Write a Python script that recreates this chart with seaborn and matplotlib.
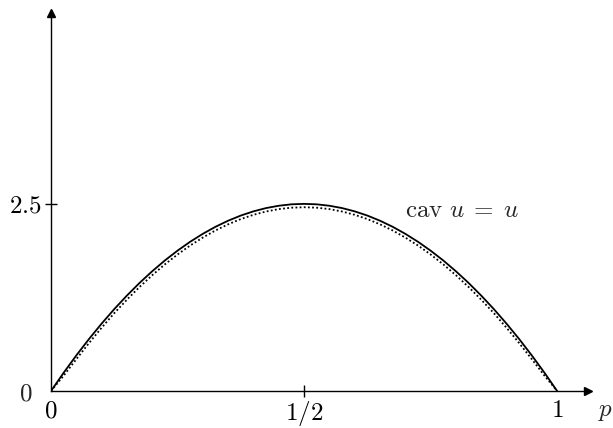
import matplotlib
matplotlib.use("Agg")
import matplotlib.pyplot as plt
import seaborn as sns
import pandas as pd

# valores (p em passos de 0.025)
p_vals = [0.0, 0.025, 0.05, 0.075, 0.1, 0.125, 0.15, 0.175, 0.2, 0.225,
          0.25, 0.275, 0.3, 0.325, 0.35, 0.375, 0.4, 0.425, 0.45, 0.475,
          0.5, 0.525, 0.55, 0.575, 0.6, 0.625, 0.65, 0.675, 0.7, 0.725,
          0.75, 0.775, 0.8, 0.825, 0.85, 0.875, 0.9, 0.925, 0.95, 0.975, 1.0]
cav_u = [0.0, 0.244, 0.475, 0.694, 0.9, 1.094, 1.275, 1.444, 1.6, 1.744,
         1.875, 1.994, 2.1, 2.194, 2.275, 2.344, 2.4, 2.444, 2.475, 2.494,
         2.5, 2.494, 2.475, 2.444, 2.4, 2.344, 2.275, 2.194, 2.1, 1.994,
         1.875, 1.744, 1.6, 1.444, 1.275, 1.094, 0.9, 0.694, 0.475, 0.244, 0.0]
u_vals = [0.0, 0.205, 0.425, 0.64, 0.845, 1.04, 1.22, 1.39, 1.547, 1.692,
          1.824, 1.944, 2.05, 2.145, 2.227, 2.297, 2.354, 2.398, 2.43, 2.449,
          2.455, 2.449, 2.43, 2.398, 2.354, 2.297, 2.227, 2.145, 2.05, 1.944,
          1.824, 1.692, 1.547, 1.39, 1.22, 1.04, 0.845, 0.64, 0.425, 0.205, 0.0]
x_ticks = [0, 0.5, 1]
x_labels = [r"$0$", r"$1/2$", r"$1$"]
y_ticks = [2.5]
y_labels = [r"$2.5$"]

df = pd.DataFrame({
    "p": p_vals * 2,
    "val": cav_u + u_vals,
    "curva": ["cav"] * len(p_vals) + ["u"] * len(p_vals),
})

sns.set_theme(style="white")
plt.rcParams["mathtext.fontset"] = "cm"
plt.rcParams["font.family"] = ["DejaVu Serif"]

fig = plt.figure(figsize=(6.13, 4.28), dpi=100)
ax = fig.add_axes([51 / 613, 1 - 391 / 428, 537 / 613, 378 / 428])

sns.lineplot(data=df, x="p", y="val", hue="curva", style="curva",
             palette={"cav": "black", "u": "black"},
             dashes={"cav": "", "u": (1, 1.3)},
             linewidth=1.3, legend=False, ax=ax)

ax.set_xlim(0, 1.061)
ax.set_ylim(0, 5.05)
for s in ["top", "right"]:
    ax.spines[s].set_visible(False)
for s in ["left", "bottom"]:
    ax.spines[s].set_color("black")
    ax.spines[s].set_linewidth(1.0)

# setas dos eixos
ax.plot(1, 0, ">", color="black", ms=6, transform=ax.transAxes, clip_on=False)
ax.plot(0, 1, "^", color="black", ms=6, transform=ax.transAxes, clip_on=False)

ax.set_xticks(x_ticks, x_labels, fontsize=18)
ax.set_yticks(y_ticks, y_labels, fontsize=18)
ax.tick_params(axis="both", direction="inout", length=8, width=1.0,
               color="black", labelcolor="black", bottom=True, left=True)
ax.tick_params(axis="x", pad=2)
ax.tick_params(axis="y", pad=3)
# sem marca nos extremos 0 e 1
for t, v in zip(ax.xaxis.get_major_ticks(), x_ticks):
    if v != 0.5:
        t.tick1line.set_visible(False)
ax.set_xlabel("")
ax.set_ylabel("")

ax.annotate(r"$0$", xy=(0, 0), xytext=(-25, -3), textcoords="offset pixels",
            fontsize=18, ha="center", va="center", annotation_clip=False)
ax.annotate(r"$p$", xy=(1, 0), xycoords="axes fraction", xytext=(18, -25),
            textcoords="offset pixels", fontsize=18, ha="center", va="baseline",
            annotation_clip=False)
ax.text(0.70, 2.33, r"$\mathrm{cav}\ u\;=\;u$", fontsize=18, ha="left", va="baseline")

fig.savefig("out.png", dpi=100)
